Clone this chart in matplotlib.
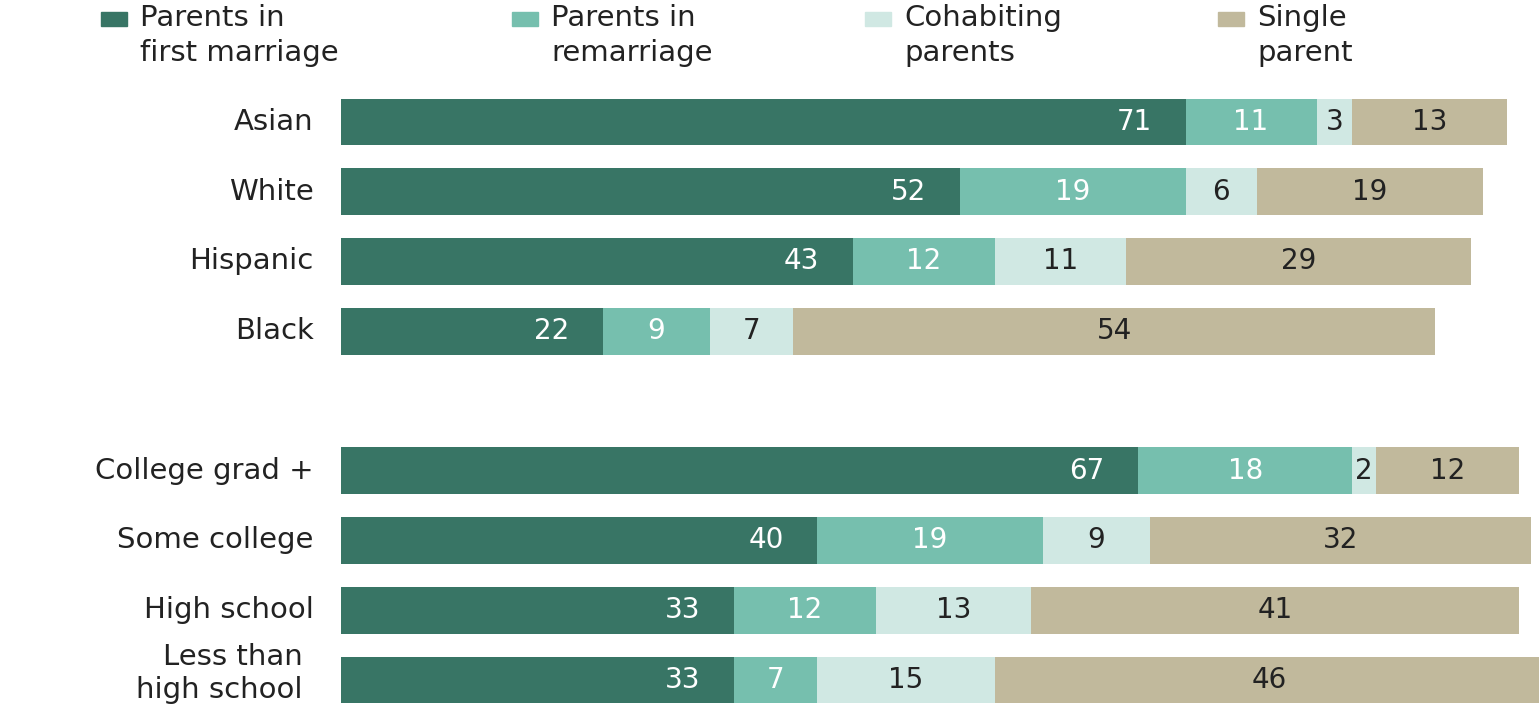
import numpy as np
import matplotlib.pyplot as plt

groups = ["Asian", "White", "Hispanic", "Black",
          "College grad +", "Some college", "High school", "Less than\nhigh school"]
first_marriage = [71, 52, 43, 22, 67, 40, 33, 33]
remarriage = [11, 19, 12, 9, 18, 19, 12, 7]
cohabiting = [3, 6, 11, 7, 2, 9, 13, 15]
single = [13, 19, 29, 54, 12, 32, 41, 46]

series_names = ["Parents in\nfirst marriage", "Parents in\nremarriage",
                "Cohabiting\nparents", "Single\nparent"]
colors = ["#387565", "#76bfae", "#d0e8e3", "#c1b99c"]
text_colors = ["white", "white", "#222222", "#222222"]

plt.rcParams['font.family'] = ['DejaVu Sans']

fig = plt.figure(figsize=(15.39, 7.05), dpi=100)
ax = fig.add_axes([341 / 1539, 0, 1 - 341 / 1539, 1])

# two blocks of rows with a blank row between them
ypos = np.array([0, 1, 2, 3, 5, 6, 7, 8])
data = [first_marriage, remarriage, cohabiting, single]

left = np.zeros(len(groups))
for i, vals in enumerate(data):
    vals = np.array(vals, dtype=float)
    ax.barh(ypos, vals, left=left, height=0.67, color=colors[i], edgecolor="none")
    for y, l, v in zip(ypos, left, vals):
        if i == 0:
            ax.text(l + v - 2.8, y, f"{int(v)}", ha="right", va="center",
                    color=text_colors[i], fontsize=20)
        else:
            ax.text(l + v / 2, y, f"{int(v)}", ha="center", va="center",
                    color=text_colors[i], fontsize=20)
    left += vals

ax.set_xlim(0, 100.7)
ax.set_ylim(8.36, -1.75)
ax.axis("off")

# row labels
for y, g in zip(ypos, groups):
    if "\n" in g:
        top, bottom = g.split("\n")
        ax.text(-3.2, y - 0.33, top, ha="right", va="center", fontsize=21,
                color="#222222")
        ax.text(-3.2, y + 0.15, bottom, ha="right", va="center", fontsize=21,
                color="#222222")
    else:
        ax.text(-2.3, y, g, ha="right", va="center", fontsize=21, color="#222222")

# legend across the top
legend_x = [101, 512, 865, 1218]
for x, name, c in zip(legend_x, series_names, colors):
    fig.patches.append(plt.Rectangle((x / 1539, 1 - 26 / 705), 26 / 1539, 14 / 705,
                                     transform=fig.transFigure, color=c))
    fig.text((x + 39) / 1539, 1 - 4 / 705, name, ha="left", va="top",
             fontsize=21, color="#222222", linespacing=1.3)

fig.savefig("out.png", dpi=100)
